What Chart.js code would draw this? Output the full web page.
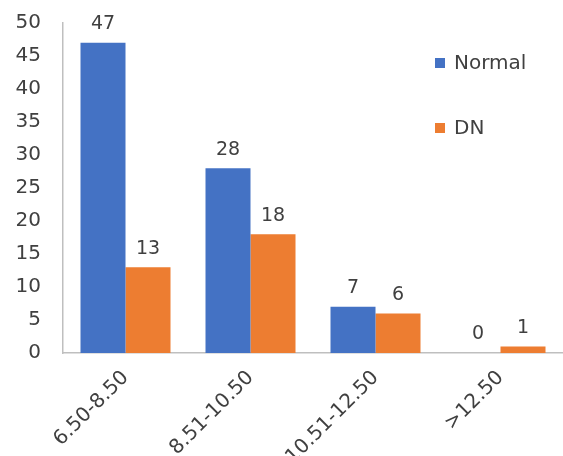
<!DOCTYPE html>
<html>
<head>
<meta charset="utf-8">
<script src="https://cdn.jsdelivr.net/npm/chart.js@4"></script>
<style>
  html, body { margin: 0; padding: 0; background: #fff; }
  #wrap { width: 563px; height: 456px; }
</style>
</head>
<body>
<div id="wrap"><canvas id="c" width="563" height="456"></canvas></div>
<script>
const categories = ['6.50-8.50', '8.51-10.50', '10.51-12.50', '>12.50'];
const normalValues = [47, 28, 7, 0];
const dnValues = [13, 18, 6, 1];
const seriesNames = ['Normal', 'DN'];
const yTicks = [0, 5, 10, 15, 20, 25, 30, 35, 40, 45, 50];

const FONT = '"DejaVu Sans", sans-serif';
const TEXT = '#404040';

// Value labels above each bar
const valueLabels = {
  id: 'valueLabels',
  afterDatasetsDraw(chart) {
    const ctx = chart.ctx;
    ctx.save();
    ctx.font = '19px ' + FONT;
    ctx.fillStyle = TEXT;
    ctx.textAlign = 'center';
    ctx.textBaseline = 'bottom';
    chart.data.datasets.forEach((ds, i) => {
      chart.getDatasetMeta(i).data.forEach((bar, j) => {
        ctx.fillText(String(ds.data[j]), bar.x, bar.y - 9);
      });
    });
    ctx.restore();
  }
};

// Vertical legend placed in the upper right of the plot
const sideLegend = {
  id: 'sideLegend',
  afterDraw(chart) {
    const ctx = chart.ctx;
    ctx.save();
    ctx.font = '20px ' + FONT;
    ctx.textBaseline = 'middle';
    ctx.textAlign = 'left';
    chart.data.datasets.forEach((ds, i) => {
      const y = 63 + i * 65;
      ctx.fillStyle = ds.backgroundColor;
      ctx.fillRect(435, y - 5, 10, 10);
      ctx.fillStyle = TEXT;
      ctx.fillText(ds.label, 454, y + 1);
    });
    ctx.restore();
  }
};

new Chart(document.getElementById('c'), {
  type: 'bar',
  data: {
    labels: categories,
    datasets: [
      { label: seriesNames[0], data: normalValues, backgroundColor: '#4472C4' },
      { label: seriesNames[1], data: dnValues, backgroundColor: '#ED7D31' }
    ]
  },
  options: {
    responsive: false,
    animation: false,
    devicePixelRatio: 1,
    layout: { padding: { top: 23, right: 0, left: 0, bottom: 0 } },
    datasets: { bar: { categoryPercentage: 0.72, barPercentage: 1.0 } },
    plugins: {
      legend: { display: false },
      tooltip: { enabled: false }
    },
    scales: {
      x: {
        grid: { display: false, drawTicks: false },
        border: { display: true, color: '#BFBFBF', width: 1.5 },
        ticks: {
          color: TEXT,
          font: { family: FONT, size: 20 },
          maxRotation: 45,
          minRotation: 45,
          padding: 13
        },
        afterFit(scale) {
          scale.height = 103;
          scale.paddingTop = 0;
          scale.paddingLeft = 0;
          scale.paddingRight = 0;
        }
      },
      y: {
        min: 0,
        max: 50,
        afterBuildTicks(scale) { scale.ticks = yTicks.map(v => ({ value: v })); },
        grid: { display: false, drawTicks: false },
        border: { display: true, color: '#BFBFBF', width: 1.5 },
        ticks: {
          color: TEXT,
          font: { family: FONT, size: 20 },
          padding: 22
        },
        afterFit(scale) {
          scale.width = 63;
          scale.paddingTop = 0;
          scale.paddingBottom = 0;
        }
      }
    }
  },
  plugins: [valueLabels, sideLegend]
});
</script>
</body>
</html>
